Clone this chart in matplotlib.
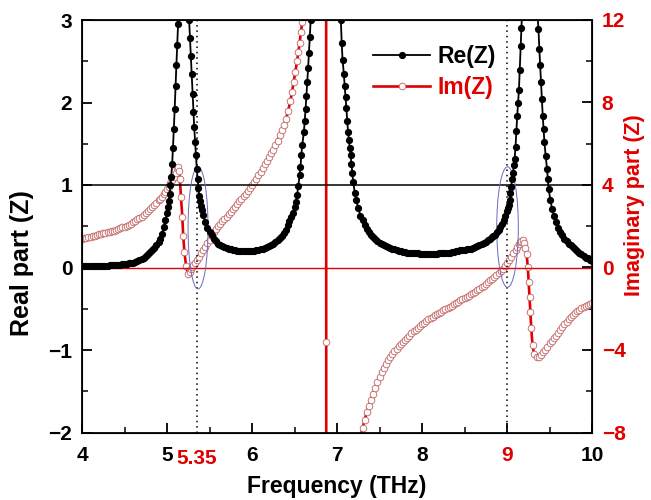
import matplotlib.pyplot as plt
from matplotlib.patches import Ellipse
from matplotlib.ticker import MultipleLocator

plt.rcParams['font.family'] = ['Liberation Sans', 'DejaVu Sans']
plt.rcParams['font.weight'] = 'bold'

RED = '#e00000'

# Re(Z) (left axis)
f_re = [4.000, 4.025, 4.050, 4.075, 4.100, 4.125, 4.150, 4.175, 4.200, 4.225, 4.250, 4.275, 4.300,
        4.325, 4.350, 4.375, 4.400, 4.425, 4.450, 4.475, 4.500, 4.525, 4.550, 4.575, 4.600, 4.625,
        4.650, 4.675, 4.700, 4.725, 4.750, 4.775, 4.800, 4.825, 4.850, 4.875, 4.900, 4.920, 4.940,
        4.960, 4.980, 5.000, 5.010, 5.020, 5.030, 5.040, 5.050, 5.060, 5.070, 5.080, 5.090, 5.100,
        5.110, 5.120, 5.130, 5.140, 5.160, 5.190, 5.220, 5.240, 5.260, 5.270, 5.280, 5.290, 5.300,
        5.310, 5.320, 5.330, 5.340, 5.350, 5.360, 5.370, 5.380, 5.390, 5.400, 5.410, 5.425, 5.450,
        5.475, 5.500, 5.525, 5.550, 5.575, 5.600, 5.625, 5.650, 5.675, 5.700, 5.725, 5.750, 5.775,
        5.800, 5.825, 5.850, 5.875, 5.900, 5.925, 5.950, 5.975, 6.000, 6.025, 6.050, 6.075, 6.100,
        6.125, 6.150, 6.175, 6.200, 6.225, 6.250, 6.275, 6.300, 6.325, 6.350, 6.375, 6.400, 6.420,
        6.440, 6.460, 6.480, 6.500, 6.515, 6.530, 6.545, 6.560, 6.570, 6.580, 6.590, 6.610, 6.620,
        6.630, 6.640, 6.650, 6.660, 6.670, 6.680, 6.690, 6.720, 6.770, 6.870, 6.970, 7.020, 7.045,
        7.055, 7.065, 7.080, 7.090, 7.100, 7.110, 7.120, 7.130, 7.140, 7.150, 7.160, 7.170, 7.180,
        7.190, 7.210, 7.225, 7.250, 7.275, 7.300, 7.325, 7.350, 7.375, 7.400, 7.425, 7.450, 7.475,
        7.500, 7.525, 7.550, 7.575, 7.600, 7.625, 7.650, 7.675, 7.700, 7.725, 7.750, 7.775, 7.800,
        7.825, 7.850, 7.875, 7.900, 7.925, 7.950, 7.975, 8.000, 8.025, 8.050, 8.075, 8.100, 8.125,
        8.150, 8.175, 8.200, 8.225, 8.250, 8.275, 8.300, 8.325, 8.350, 8.375, 8.400, 8.425, 8.450,
        8.475, 8.500, 8.525, 8.550, 8.575, 8.600, 8.625, 8.650, 8.675, 8.700, 8.725, 8.750, 8.775,
        8.800, 8.820, 8.840, 8.860, 8.880, 8.900, 8.920, 8.940, 8.960, 8.980, 9.000, 9.010, 9.020,
        9.030, 9.040, 9.050, 9.060, 9.070, 9.080, 9.090, 9.100, 9.110, 9.120, 9.130, 9.140, 9.150,
        9.160, 9.170, 9.180, 9.220, 9.270, 9.320, 9.350, 9.370, 9.380, 9.390, 9.400, 9.410, 9.420,
        9.430, 9.440, 9.455, 9.470, 9.480, 9.490, 9.510, 9.530, 9.550, 9.575, 9.600, 9.625, 9.650,
        9.675, 9.700, 9.725, 9.750, 9.775, 9.800, 9.825, 9.850, 9.875, 9.900, 9.925, 9.950, 9.975,
        10.000]
re_z = [0.02, 0.02, 0.02, 0.02, 0.02, 0.02, 0.02, 0.02, 0.02, 0.02, 0.02, 0.02, 0.02,
        0.03, 0.03, 0.03, 0.03, 0.03, 0.03, 0.04, 0.04, 0.04, 0.05, 0.05, 0.06, 0.07,
        0.08, 0.09, 0.10, 0.12, 0.14, 0.16, 0.19, 0.21, 0.24, 0.27, 0.31, 0.35, 0.41,
        0.49, 0.57, 0.66, 0.73, 0.81, 0.89, 1.00, 1.10, 1.25, 1.45, 1.68, 1.92, 2.20,
        2.45, 2.70, 2.95, 3.25, 4.00, 5.00, 4.00, 3.30, 3.00, 2.78, 2.56, 2.35, 2.10,
        1.88, 1.70, 1.52, 1.36, 1.20, 1.07, 0.96, 0.87, 0.81, 0.75, 0.70, 0.64, 0.55,
        0.48, 0.43, 0.39, 0.35, 0.32, 0.29, 0.27, 0.26, 0.25, 0.24, 0.23, 0.22, 0.21,
        0.21, 0.20, 0.20, 0.20, 0.20, 0.20, 0.20, 0.20, 0.20, 0.20, 0.21, 0.21, 0.22,
        0.23, 0.24, 0.25, 0.26, 0.27, 0.29, 0.31, 0.33, 0.36, 0.38, 0.42, 0.46, 0.51,
        0.56, 0.61, 0.66, 0.73, 0.79, 0.88, 0.99, 1.12, 1.22, 1.36, 1.48, 1.64, 1.78,
        1.92, 2.08, 2.25, 2.42, 2.60, 2.80, 3.00, 3.60, 4.80, 7.00, 4.80, 3.60, 3.00,
        2.72, 2.52, 2.35, 2.20, 2.07, 1.93, 1.78, 1.64, 1.54, 1.45, 1.36, 1.25, 1.14,
        1.04, 0.90, 0.82, 0.72, 0.63, 0.57, 0.52, 0.47, 0.43, 0.40, 0.37, 0.34, 0.32,
        0.30, 0.28, 0.27, 0.26, 0.25, 0.24, 0.23, 0.22, 0.21, 0.20, 0.20, 0.19, 0.19,
        0.18, 0.18, 0.17, 0.17, 0.17, 0.17, 0.16, 0.16, 0.16, 0.16, 0.16, 0.16, 0.16,
        0.16, 0.16, 0.17, 0.17, 0.17, 0.18, 0.18, 0.18, 0.19, 0.19, 0.20, 0.20, 0.21,
        0.21, 0.21, 0.22, 0.22, 0.23, 0.24, 0.25, 0.26, 0.27, 0.28, 0.30, 0.31, 0.33,
        0.35, 0.37, 0.38, 0.40, 0.43, 0.46, 0.49, 0.53, 0.57, 0.62, 0.69, 0.72, 0.76,
        0.82, 0.90, 0.98, 1.07, 1.15, 1.24, 1.32, 1.46, 1.66, 1.84, 2.00, 2.15, 2.40,
        2.68, 2.90, 3.15, 4.50, 6.00, 4.50, 3.20, 2.89, 2.65, 2.45, 2.25, 2.04, 1.84,
        1.68, 1.52, 1.35, 1.20, 1.07, 0.95, 0.82, 0.71, 0.63, 0.55, 0.48, 0.43, 0.39,
        0.35, 0.32, 0.29, 0.27, 0.25, 0.23, 0.20, 0.18, 0.16, 0.14, 0.12, 0.11, 0.09,
        0.08]

# Im(Z) (right axis)
f_im = [4.000, 4.025, 4.050, 4.075, 4.100, 4.125, 4.150, 4.175, 4.200, 4.225, 4.250, 4.275, 4.300,
        4.325, 4.350, 4.375, 4.400, 4.425, 4.450, 4.475, 4.500, 4.525, 4.550, 4.575, 4.600, 4.625,
        4.650, 4.675, 4.700, 4.725, 4.750, 4.775, 4.800, 4.825, 4.850, 4.875, 4.900, 4.920, 4.940,
        4.960, 4.980, 5.000, 5.020, 5.040, 5.060, 5.080, 5.100, 5.120, 5.130, 5.140, 5.150, 5.165,
        5.180, 5.190, 5.205, 5.225, 5.245, 5.265, 5.280, 5.295, 5.310, 5.325, 5.350, 5.375, 5.400,
        5.425, 5.450, 5.475, 5.500, 5.525, 5.550, 5.575, 5.600, 5.625, 5.650, 5.675, 5.700, 5.725,
        5.750, 5.775, 5.800, 5.825, 5.850, 5.875, 5.900, 5.925, 5.950, 5.975, 6.000, 6.025, 6.050,
        6.075, 6.100, 6.125, 6.150, 6.175, 6.200, 6.225, 6.250, 6.275, 6.300, 6.325, 6.350, 6.375,
        6.400, 6.425, 6.450, 6.470, 6.490, 6.510, 6.530, 6.545, 6.560, 6.575, 6.590, 6.620, 6.700,
        6.800, 6.870, 6.873, 6.875, 6.950, 7.050, 7.150, 7.250, 7.275, 7.300, 7.325, 7.350, 7.375,
        7.400, 7.425, 7.450, 7.475, 7.500, 7.525, 7.550, 7.575, 7.600, 7.625, 7.650, 7.675, 7.700,
        7.725, 7.750, 7.775, 7.800, 7.825, 7.850, 7.875, 7.900, 7.925, 7.950, 7.975, 8.000, 8.025,
        8.050, 8.075, 8.100, 8.125, 8.150, 8.175, 8.200, 8.225, 8.250, 8.275, 8.300, 8.325, 8.350,
        8.375, 8.400, 8.425, 8.450, 8.475, 8.500, 8.525, 8.550, 8.575, 8.600, 8.625, 8.650, 8.675,
        8.700, 8.725, 8.750, 8.775, 8.800, 8.825, 8.850, 8.875, 8.900, 8.925, 8.950, 8.975, 9.000,
        9.025, 9.050, 9.075, 9.100, 9.120, 9.140, 9.155, 9.170, 9.185, 9.200, 9.215, 9.230, 9.245,
        9.255, 9.265, 9.275, 9.285, 9.300, 9.320, 9.350, 9.375, 9.400, 9.425, 9.450, 9.475, 9.500,
        9.525, 9.550, 9.575, 9.600, 9.625, 9.650, 9.675, 9.700, 9.725, 9.750, 9.775, 9.800, 9.825,
        9.850, 9.875, 9.900, 9.925, 9.950, 9.975, 10.000]
im_z = [1.40, 1.42, 1.45, 1.47, 1.50, 1.52, 1.55, 1.57, 1.60, 1.62, 1.65, 1.67, 1.70,
        1.73, 1.76, 1.79, 1.82, 1.86, 1.90, 1.94, 1.98, 2.02, 2.07, 2.13, 2.20, 2.26,
        2.33, 2.40, 2.47, 2.55, 2.64, 2.73, 2.83, 2.93, 3.03, 3.14, 3.25, 3.33, 3.42,
        3.55, 3.68, 3.80, 3.92, 4.08, 4.24, 4.40, 4.60, 4.82, 4.86, 4.70, 4.30, 3.40,
        2.44, 1.55, 0.74, 0.05, -0.30, -0.20, -0.08, 0.02, 0.12, 0.20, 0.35, 0.52, 0.68,
        0.84, 1.00, 1.18, 1.35, 1.53, 1.70, 1.85, 2.00, 2.13, 2.25, 2.35, 2.45, 2.58,
        2.70, 2.83, 2.95, 3.08, 3.20, 3.33, 3.45, 3.58, 3.70, 3.85, 4.00, 4.15, 4.30,
        4.47, 4.65, 4.82, 5.00, 5.17, 5.35, 5.53, 5.72, 5.93, 6.15, 6.40, 6.65, 6.92,
        7.20, 7.60, 8.05, 8.50, 9.00, 9.50, 10.00, 10.45, 10.90, 11.40, 11.90, 13.0, 17.0,
        28.0, 60.0, -3.6, -60.0, -25.0, -14.0, -10.5, -8.6, -8.2, -7.8, -7.4, -7.0, -6.7,
        -6.4, -6.12, -5.85, -5.57, -5.30, -5.07, -4.85, -4.67, -4.50, -4.35, -4.20, -4.07, -3.95,
        -3.83, -3.72, -3.61, -3.50, -3.40, -3.30, -3.20, -3.10, -3.01, -2.92, -2.83, -2.75, -2.67,
        -2.60, -2.52, -2.45, -2.38, -2.32, -2.26, -2.20, -2.14, -2.08, -2.02, -1.96, -1.90, -1.85,
        -1.79, -1.73, -1.66, -1.60, -1.54, -1.48, -1.42, -1.36, -1.30, -1.24, -1.17, -1.10, -1.03,
        -0.95, -0.88, -0.80, -0.72, -0.63, -0.55, -0.46, -0.37, -0.28, -0.17, -0.05, 0.07, 0.20,
        0.35, 0.50, 0.68, 0.85, 1.00, 1.15, 1.24, 1.30, 1.31, 1.20, 0.95, 0.66, 0.00,
        -0.71, -1.44, -2.17, -2.92, -3.78, -4.19, -4.35, -4.32, -4.22, -4.12, -3.98, -3.84, -3.68,
        -3.55, -3.42, -3.30, -3.17, -3.05, -2.90, -2.75, -2.62, -2.50, -2.40, -2.30, -2.20, -2.12,
        -2.04, -1.97, -1.91, -1.85, -1.80, -1.75, -1.70]

marked_f = [5.35, 9.0]

fig = plt.figure(figsize=(6.51, 5.0), dpi=100)
ax1 = fig.add_axes([0.126, 0.135, 0.7834, 0.825])
ax2 = ax1.twinx()
ax1.set_zorder(ax2.get_zorder() + 1)
ax1.patch.set_visible(False)

im_line, = ax2.plot(f_im, im_z, color=RED, lw=1.9, marker='o', ms=4.8,
                    mfc='white', mec='#c06060', mew=0.6)
re_line, = ax1.plot(f_re, re_z, color='k', lw=1.3, marker='o', ms=4.2, mfc='k', mec='k')

ax1.axhline(1, color='k', lw=1.1, zorder=1)
ax1.axhline(0, color=RED, lw=1.0, zorder=1)
for f in marked_f:
    ax1.axvline(f, color='k', lw=1.1, ls=(0, (1, 2.5)), zorder=1)

ax1.add_patch(Ellipse((5.365, 0.48), 0.235, 1.48, fill=False, ec='#6a6ab8', lw=0.7))
ax1.add_patch(Ellipse((9.006, 0.49), 0.254, 1.46, fill=False, ec='#6a6ab8', lw=0.7))

ax1.set_xlim(4, 10)
ax1.set_ylim(-2, 3)
ax2.set_ylim(-8, 12)

ax1.set_xticks([4, 5, 6, 7, 8, 9, 10])
ax1.xaxis.set_minor_locator(MultipleLocator(0.5))
ax1.set_yticks([-2, -1, 0, 1, 2, 3])
ax1.yaxis.set_minor_locator(MultipleLocator(0.5))
ax2.set_yticks([-8, -4, 0, 4, 8, 12])
ax2.yaxis.set_minor_locator(MultipleLocator(2))

ax1.tick_params(axis='x', which='both', direction='in', top=False, labelsize=15, pad=10)
ax1.tick_params(axis='y', which='both', direction='in', right=False, labelsize=15, pad=7)
ax1.tick_params(which='major', length=7, width=1.3)
ax1.tick_params(which='minor', length=4, width=1.1)
ax2.tick_params(axis='y', which='both', direction='in', labelsize=15, labelcolor=RED, pad=7)
ax2.tick_params(which='major', length=7, width=1.3)
ax2.tick_params(which='minor', length=4, width=1.1)

for lab in ax1.get_xticklabels():
    if lab.get_text() == '9':
        lab.set_color(RED)
ax1.text(5.35, -0.04, '5.35', transform=ax1.get_xaxis_transform(), ha='center', va='top',
         fontsize=15, fontweight='bold', color=RED)

for sp in ax1.spines.values():
    sp.set_linewidth(1.3)

ax1.set_xlabel('Frequency (THz)', fontsize=16.5, fontweight='bold', labelpad=7)
ax1.set_ylabel('Real part (Z)', fontsize=18, fontweight='bold')
ax1.yaxis.set_label_coords(-0.094, 0.41)
ax2.set_ylabel('Imaginary part (Z)', fontsize=15.5, fontweight='bold', color=RED)
ax2.yaxis.set_label_coords(1.062, 0.55)

leg = ax1.legend([re_line, im_line], ['Re(Z)', 'Im(Z)'], loc='upper left',
                 bbox_to_anchor=(0.53, 0.99), frameon=False, fontsize=16.5,
                 handlelength=2.5, handletextpad=0.3, labelspacing=0.35)
leg.get_texts()[1].set_color(RED)

fig.savefig('out.png', dpi=100)
